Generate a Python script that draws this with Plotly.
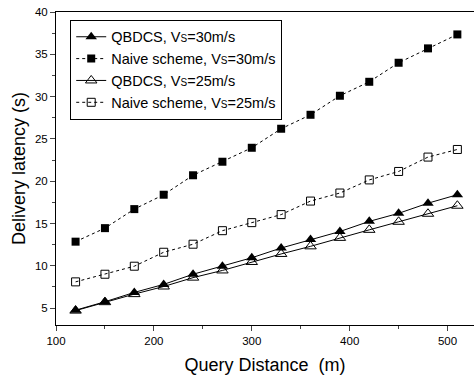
import plotly.graph_objects as go

distance = [120, 150, 180, 210, 240, 270, 300, 330, 360, 390, 420, 450, 480, 510]
qbdcs_30 = [4.75, 5.75, 6.85, 7.8, 9.0, 9.95, 10.95, 12.1, 13.1, 14.05, 15.25, 16.2, 17.4, 18.4]
naive_30 = [12.85, 14.45, 16.7, 18.4, 20.7, 22.3, 23.95, 26.2, 27.85, 30.1, 31.75, 34.0, 35.7, 37.35]
qbdcs_25 = [4.7, 5.7, 6.65, 7.55, 8.6, 9.45, 10.45, 11.4, 12.3, 13.3, 14.25, 15.2, 16.15, 17.1]
naive_25 = [8.1, 9.0, 9.95, 11.6, 12.55, 14.15, 15.1, 16.05, 17.65, 18.6, 20.15, 21.15, 22.85, 23.75]

VS = "V<span style='font-size:10px'>S</span>"
names = [f"QBDCS, {VS}=30m/s", f"Naive scheme, {VS}=30m/s",
         f"QBDCS, {VS}=25m/s", f"Naive scheme, {VS}=25m/s"]

fig = go.Figure()
fig.add_trace(go.Scatter(x=distance, y=qbdcs_30, name=names[0], mode="lines+markers",
                         line=dict(color="black", width=1),
                         marker=dict(symbol="triangle-up", size=10, color="black")))
fig.add_trace(go.Scatter(x=distance, y=naive_30, name=names[1], mode="lines+markers",
                         line=dict(color="black", width=1, dash="dot"),
                         marker=dict(symbol="square", size=8, color="black")))
fig.add_trace(go.Scatter(x=distance, y=qbdcs_25, name=names[2], mode="lines+markers",
                         line=dict(color="black", width=1),
                         marker=dict(symbol="triangle-up-open", size=10, color="black", line=dict(width=1))))
fig.add_trace(go.Scatter(x=distance, y=naive_25, name=names[3], mode="lines+markers",
                         line=dict(color="black", width=1, dash="dot"),
                         marker=dict(symbol="square-open", size=8, color="black", line=dict(width=1))))

fig.update_layout(
    width=474, height=379,
    margin=dict(l=56, r=0, t=12, b=54),
    paper_bgcolor="white", plot_bgcolor="white",
    font=dict(family="Liberation Sans, Arial, sans-serif", color="black", size=11.5),
    legend=dict(x=0.034, y=0.975, xanchor="left", yanchor="top",
                bordercolor="black", borderwidth=1, bgcolor="white",
                font=dict(size=14.5), tracegroupgap=0, itemwidth=30),
    showlegend=True,
)
fig.update_xaxes(range=[100, 527], tick0=100, dtick=100, ticks="outside", ticklen=5,
                 showline=True, linecolor="black", linewidth=1, mirror=True,
                 showgrid=False, zeroline=False,
                 minor=dict(dtick=50, ticks="outside", ticklen=3),
                 title=dict(text="Query Distance  (m)", font=dict(size=18), standoff=12))
fig.update_yaxes(range=[3, 40], tick0=5, dtick=5, ticks="outside", ticklen=5,
                 showline=True, linecolor="black", linewidth=1,
                 showgrid=False, zeroline=False,
                 minor=dict(dtick=2.5, tick0=2.5, ticks="outside", ticklen=3),
                 title=dict(text="Delivery latency (s)", font=dict(size=18), standoff=4))

fig.write_html("out.html")
